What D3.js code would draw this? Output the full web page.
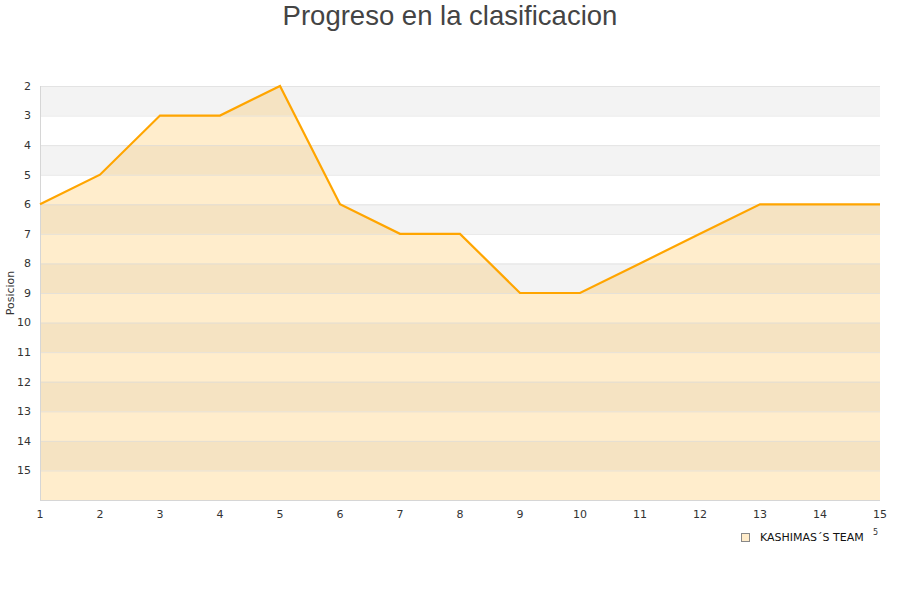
<!DOCTYPE html>
<html><head><meta charset="utf-8">
<script src="https://cdn.jsdelivr.net/npm/d3@7"></script>
<style>body{margin:0;background:#fff}svg{display:block}</style>
</head><body>
<svg id="c" width="900" height="600"></svg>
<script>
const rounds = [1,2,3,4,5,6,7,8,9,10,11,12,13,14,15];
const positions = [6,5,3,3,2,6,7,7,9,9,8,7,6,6,6];
const yTicks = [2,3,4,5,6,7,8,9,10,11,12,13,14,15];
const seriesName = "KASHIMAS´S TEAM";
const title = "Progreso en la clasificacion";
const yTitle = "Posicion";

const svg = d3.select("#c");
const L=40, R=880, T=86, B=500;
const x = d3.scaleLinear().domain([1,15]).range([L,R]);
const y = d3.scaleLinear().domain([2,16]).range([T,B]);

// bands
const bands = d3.range(2,16);
svg.selectAll("rect.band").data(bands).enter().append("rect")
  .attr("x",L).attr("width",R-L)
  .attr("y",d=>y(d)).attr("height",d=>y(d+1)-y(d))
  .attr("fill",d=>(d%2===0)?"#f3f3f3":"#ffffff");

// area
const area = d3.area().x((d,i)=>x(rounds[i])).y0(B).y1(d=>y(d));
svg.append("path").datum(positions).attr("d",area)
  .attr("fill","#ffa500").attr("fill-opacity",0.2);

// grid lines
svg.selectAll("line.grid").data(d3.range(2,16)).enter().append("line")
  .attr("x1",L).attr("x2",R).attr("y1",d=>y(d)+0.5).attr("y2",d=>y(d)+0.5)
  .attr("stroke","#dcdcdc").attr("stroke-width",1).attr("stroke-opacity",0.7);

// frame
svg.append("line").attr("x1",L+0.5).attr("x2",L+0.5).attr("y1",T).attr("y2",B)
  .attr("stroke","#d6d6d6");
svg.append("line").attr("x1",L).attr("x2",R).attr("y1",B+0.5).attr("y2",B+0.5)
  .attr("stroke","#d6d6d6");

// line
const line = d3.line().x((d,i)=>x(rounds[i])).y(d=>y(d));
svg.append("path").datum(positions).attr("d",line)
  .attr("fill","none").attr("stroke","#ffa500").attr("stroke-width",2.2)
  .attr("stroke-linejoin","miter");

// y labels
svg.selectAll("text.yl").data(yTicks).enter().append("text")
  .attr("x",31).attr("y",d=>y(d)).attr("dy","0.35em")
  .attr("text-anchor","end").attr("font-family","DejaVu Sans, sans-serif")
  .attr("font-size",11).attr("fill","#333").text(d=>d);

// x labels
svg.selectAll("text.xl").data(rounds).enter().append("text")
  .attr("x",d=>x(d)).attr("y",518)
  .attr("text-anchor","middle").attr("font-family","DejaVu Sans, sans-serif")
  .attr("font-size",11).attr("fill","#333").text(d=>d);

// titles
svg.append("text").attr("x",450).attr("y",25).attr("text-anchor","middle")
  .attr("font-family","Liberation Sans, Arial, sans-serif").attr("font-size",27.5)
  .attr("fill","#444").text(title);
svg.append("text").attr("transform","translate(14,293) rotate(-90)")
  .attr("text-anchor","middle").attr("font-family","DejaVu Sans, sans-serif")
  .attr("font-size",11).attr("fill","#333").text(yTitle);

// legend
svg.append("rect").attr("x",741.5).attr("y",533.5).attr("width",8).attr("height",8)
  .attr("fill","#ffecca").attr("stroke","#888");
svg.append("text").attr("x",760).attr("y",541).attr("font-family","DejaVu Sans, sans-serif")
  .attr("font-size",11).attr("fill","#111").text(seriesName);
svg.append("text").attr("x",873).attr("y",535).attr("font-family","DejaVu Sans, sans-serif")
  .attr("font-size",8).attr("fill","#333").text("5");
</script>
</body></html>
